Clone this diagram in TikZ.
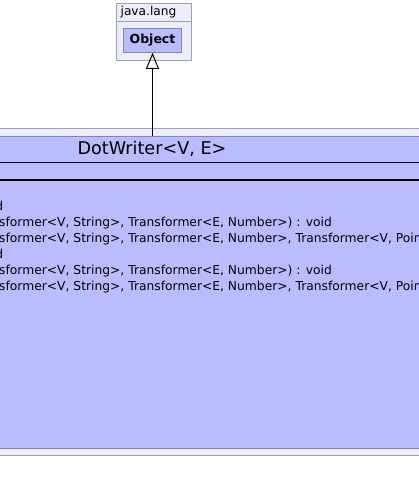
\documentclass[tikz,border=0pt]{standalone}
\usepackage{fontspec}
\setmainfont{DejaVu Sans}
\usetikzlibrary{arrows.meta,positioning}
\definecolor{pkgfill}{HTML}{EEEEFA}
\definecolor{pkgline}{HTML}{A0A0B4}
\definecolor{clsfill}{HTML}{BBBBFF}
\definecolor{clsline}{HTML}{8686A6}

\begin{document}
\begin{tikzpicture}[x=1pt,y=-1pt,>={Triangle[open,length=16pt,width=13pt]},
  pkg/.style={draw=pkgline,fill=pkgfill,line width=1pt,inner sep=0pt},
  cls/.style={draw=clsline,fill=clsfill,line width=1pt,inner sep=0pt},
  mth/.style={font=\fontsize{12.3}{14}\selectfont,inner sep=0pt}]
  \useasboundingbox (0,0) rectangle (419,493);
  \clip (0,0) rectangle (419,493);
  \node[pkg,anchor=north west,minimum width=75.5pt,minimum height=57pt] (lang) at (115.5,3) {};
  \node[font=\fontsize{12.2}{14}\selectfont] (langname) at (148.5,12) {java.lang};
  \draw[pkgline,line width=1pt] (lang.west |- 0,21) -- (lang.east |- 0,21);
  \node[cls,minimum width=58pt,minimum height=24pt,font=\bfseries\fontsize{12.5}{14}\selectfont] (obj) at (152.5,40.3) {Object};
  \node[pkg,anchor=north,minimum width=600pt,minimum height=327.5pt] (dotpkg) at (152.5,127.5) {};
  \node[cls,anchor=north,minimum width=590pt,minimum height=311.5pt] (dotwriter) at (152.5,136) {};
  \node[font=\fontsize{17.6}{20}\selectfont] (dwname) at (152,149) {DotWriter<V, E>};
  \draw (dotwriter.west |- 0,162) -- (dotwriter.east |- 0,162);
  \draw[line width=2pt] (dotwriter.west |- 0,180) -- (dotwriter.east |- 0,180);
  \draw[->,line width=1pt] (dotwriter.north) -- (obj.south);
  \node[mth,anchor=base east] (m1) at (3.5,210) {d};
  \node[mth,anchor=base west] (m2) at (-1,226) {sformer<V, String>, Transformer<E, Number>) : void};
  \node[mth,anchor=base west] (m3) at (-1,242) {sformer<V, String>, Transformer<E, Number>, Transformer<V, Poin};
  \node[mth,anchor=base east] (m4) at (3.5,258) {d};
  \node[mth,anchor=base west] (m5) at (-1,274) {sformer<V, String>, Transformer<E, Number>) : void};
  \node[mth,anchor=base west] (m6) at (-1,290) {sformer<V, String>, Transformer<E, Number>, Transformer<V, Poin};
\end{tikzpicture}
\end{document}
